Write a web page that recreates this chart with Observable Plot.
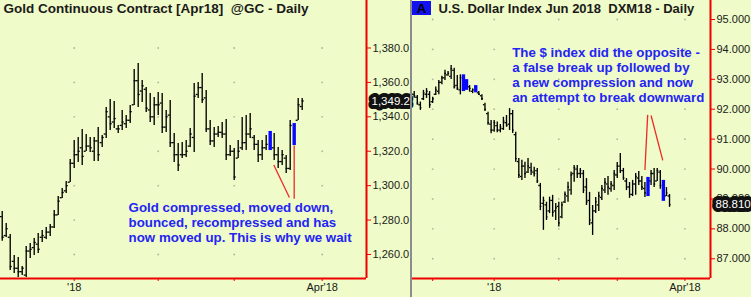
<!DOCTYPE html>
<html><head><meta charset="utf-8">
<script src="https://cdn.jsdelivr.net/npm/d3@7"></script>
<script src="https://cdn.jsdelivr.net/npm/@observablehq/plot@0.6"></script>
<style>
html,body{margin:0;padding:0;background:#effbc8;}
#wrap{position:relative;width:751px;height:297px;overflow:hidden;background:#effbc8;font-family:"Liberation Sans",Arial,sans-serif;}
#left{position:absolute;left:0;top:0;}
#right{position:absolute;left:410px;top:0;border-left:2px solid #8c8c8c;height:297px;}
#tag{position:absolute;left:412px;top:1px;width:19px;height:14px;background:#1212ee;color:#000;font:bold 13px "Liberation Sans",Arial,sans-serif;text-align:center;line-height:15px;}
svg{display:block;}
</style></head><body>
<div id="wrap"><div id="left"></div><div id="right"></div><div id="tag">A</div></div>
<script>
// ---------- Gold Continuous Contract (daily OHLC) ----------
const goldFirstT = -18; // trading days relative to first bar of 2018
const goldHigh = [1285.0,1278.0,1271.6,1259.4,1258.3,1253.0,1264.7,1266.4,1269.3,1272.2,
 1274.0,1275.7,1277.4,1285.6,1293.7,1298.4,1302.4,1315.2,1326.2,1328.0,
 1332.6,1329.7,1328.0,1328.0,1333.8,1329.2,1345.4,1350.1,1348.9,1335.0,
 1343.7,1340.8,1346.6,1367.5,1371.0,1361.1,1357.0,1353.6,1351.2,1354.1,
 1353.6,1343.7,1349.5,1330.3,1324.5,1325.1,1326.2,1333.2,1359.4,1360.0,
 1365.2,1355.3,1337.9,1333.8,1334.4,1336.7,1338.5,1323.3,1321.6,1326.2,
 1339.6,1340.8,1341.9,1329.2,1326.2,1326.2,1329.2,1331.5,1330.3,1322.2,
 1320.4,1317.5,1337.9,1336.1,1350.7,1350.7];
const goldLow = [1267.7,1269.9,1250.7,1249.0,1246.6,1247.8,1246.6,1257.7,1259.4,1260.6,
 1267.0,1268.7,1270.5,1275.1,1282.7,1292.5,1295.5,1301.8,1310.0,1313.5,
 1311.7,1319.9,1319.3,1314.0,1314.0,1322.2,1327.4,1332.1,1333.2,1330.3,
 1332.1,1333.2,1336.1,1346.6,1345.4,1348.3,1342.5,1336.7,1335.0,1340.8,
 1330.3,1330.9,1322.2,1313.5,1308.2,1315.8,1316.4,1322.2,1319.3,1350.7,
 1347.7,1330.9,1323.3,1322.2,1328.0,1327.4,1314.6,1317.0,1303.0,1315.8,
 1320.4,1320.4,1327.4,1320.4,1313.5,1314.6,1320.4,1320.4,1314.6,1310.0,
 1311.7,1307.1,1308.8,1323.3,1337.9,1343.7];
const goldOpen = [1282,1271,1270,1256,1252,1250,1248,1262,1264,1266,
 1270,1270,1273,1276,1283,1293,1297,1302,1313,1318,
 1322,1320,1323,1320,1326,1325,1330,1340,1337,1333,
 1335,1336,1338,1347,1361,1355,1356,1344,1340,1347,
 1348,1334,1341,1325,1318,1318,1318,1323,1328,1353,
 1357,1351,1333,1326,1330,1331,1330,1318,1320,1316,
 1322,1325,1330,1328,1324,1318,1322,1330,1322,1318,
 1314,1316,1310,1335,1338,1346];
const goldClose = [1270,1275,1253,1252,1250,1252,1262,1263,1267,1263,
 1271,1273,1276,1283,1291,1296,1300,1313,1318,1320,
 1317,1323,1322,1326,1318,1328,1343,1336,1339,1333,
 1337,1338,1343,1361,1353,1358,1345,1340,1347,1347,
 1334,1340,1325,1318,1312,1318,1320,1330,1352,1357,
 1350,1333,1326,1330,1331,1330,1318,1320,1305,1320,
 1325,1330,1333,1324,1318,1322,1324,1322,1318,1314,
 1318,1310,1335,1325,1347,1349.2];
const goldPainted = [67, 73];
const goldYTicks = [1260, 1280, 1300, 1320, 1340, 1360, 1380];
const goldXTicks = [0, 21, 40, 62];
const goldXLabels = ["'18", "", "", "Apr'18"];
const goldTitle = "Gold Continuous Contract [Apr18] \u00a0@GC - Daily";
const goldNote = [{t: 13.6, v: 1278.9, text: "Gold compressed, moved down,\nbounced, recompressed and has\nnow moved up. This is why we wait"}];
const goldArrows = [{t1: 49.9, v1: 1312.0, t2: 53.8, v2: 1293.1}, {t1: 55, v1: 1323.3, t2: 55, v2: 1292.4}];

// ---------- U.S. Dollar Index Jun 2018 (daily OHLC) ----------
const dxFirstT = -26;
const dxHigh = [92.59,92.46,92.24,92.63,92.69,92.59,92.40,92.74,92.96,93.10,
 93.30,93.26,93.46,93.37,93.13,93.15,93.15,92.99,92.79,92.68,
 92.79,92.59,92.48,92.20,91.90,91.62,91.62,91.57,91.49,91.73,
 91.79,92.02,91.96,91.23,90.35,90.29,90.23,90.35,90.19,90.06,
 90.02,89.52,89.06,88.89,89.06,89.12,88.85,88.89,88.89,89.23,
 89.56,89.90,90.12,90.12,90.02,89.95,89.68,89.22,88.78,89.05,
 89.22,89.45,89.68,89.75,89.58,89.95,90.22,90.52,90.02,89.68,
 89.55,89.62,89.85,89.92,89.75,89.55,89.72,89.95,90.02,90.02,
 89.95,89.62,89.38,89.15];
const dxLow = [92.37,92.13,91.96,92.29,92.36,92.03,92.19,92.46,92.48,92.82,
 92.96,93.10,92.99,92.68,92.63,92.48,92.59,92.63,92.57,92.52,
 92.55,92.46,92.29,91.92,91.46,91.18,91.23,91.21,91.21,91.29,
 91.40,91.29,91.19,90.23,89.68,89.62,89.68,89.85,89.78,89.73,
 89.52,88.61,87.95,88.28,88.51,88.39,88.28,88.06,88.34,88.85,
 88.89,89.12,89.56,89.68,89.68,89.18,88.78,88.11,87.78,88.51,
 88.58,88.95,89.18,89.12,89.22,89.28,89.68,89.85,89.62,89.28,
 89.02,89.08,89.12,89.45,89.28,89.05,89.08,89.45,89.38,89.58,
 89.32,88.92,89.08,88.72];
const dxOpen = [92.50,92.40,92.15,92.35,92.50,92.50,92.25,92.50,92.60,92.90,
 93.05,93.15,93.10,93.30,92.80,92.65,93.05,92.70,92.75,92.60,
 92.70,92.55,92.45,92.15,91.85,91.50,91.30,91.45,91.30,91.35,
 91.55,91.50,91.85,91.15,90.25,89.75,90.10,89.90,90.05,89.90,
 89.95,89.45,88.85,88.80,88.60,88.95,88.60,88.75,88.40,88.90,
 89.10,89.30,89.85,90.00,89.85,89.85,89.40,88.95,88.20,88.60,
 88.80,89.05,89.30,89.50,89.35,89.45,89.80,90.10,89.95,89.60,
 89.40,89.15,89.50,89.70,89.60,89.35,89.20,89.60,89.85,89.60,
 89.90,89.45,89.10,89.10];
const dxClose = [92.45,92.20,92.05,92.55,92.60,92.15,92.35,92.65,92.90,93.05,
 93.20,93.20,93.35,92.75,92.70,93.05,92.65,92.90,92.70,92.65,
 92.60,92.50,92.35,92.00,91.55,91.30,91.55,91.30,91.40,91.60,
 91.45,91.85,91.30,90.35,89.80,90.10,89.85,90.10,89.95,89.85,
 89.60,88.75,88.95,88.40,88.95,88.55,88.70,88.20,88.80,89.15,
 89.40,89.80,90.05,89.85,89.95,89.30,88.90,88.30,88.60,88.90,
 89.10,89.35,89.55,89.40,89.50,89.85,90.10,89.95,89.70,89.40,
 89.15,89.50,89.75,89.60,89.40,89.20,89.65,89.85,89.50,89.95,
 89.45,89.00,89.20,88.81];
const dxPainted = [16, 17, 20, 76, 81];
const dxYTicks = [87, 88, 89, 90, 91, 92, 93, 94, 95];
const dxXTicks = [-20, 0, 21, 40, 62];
const dxXLabels = ["", "'18", "", "", "Apr'18"];
const dxTitle = "U.S. Dollar Index Jun 2018 \u00a0DXM18 - Daily";
const dxNote = [{t: 5.85, v: 93.155, text: "The $ index did the opposite -\na false break up followed by\na new compression and now\nan attempt to break downward"}];
const dxArrows = [{t1: 49.0, v1: 89.97, t2: 49.9, v2: 91.81}, {t1: 51.0, v1: 91.79, t2: 54.8, v2: 90.29}];

// ---------- helpers ----------
const FONT = "'Liberation Sans', Arial, sans-serif";
const RED = "#f00000";
const NOTE = "#2424f4";
const TXT = "#1a1a1a";

function makeRows(high, low, open, close, firstT, painted) {
  return high.map((h, i) => ({t: i + firstT, high: h, low: low[i], open: open[i], close: close[i], painted: painted.includes(i)}));
}

function panel({rows, width, marginRight, xDomain, yDomain, xTicks, xLabels, yTicks, yFormat, title, titleDx, titleSize, note, arrows, tickHalf, priceFormat}) {
  const plain = rows.filter(d => !d.painted);
  const painted = rows.filter(d => d.painted);
  const last = rows[rows.length - 1].close;
  return Plot.plot({
    width, height: 297,
    marginLeft: 0, marginRight, marginTop: 0, marginBottom: 19,
    x: {domain: xDomain},
    y: {domain: yDomain},
    style: {background: "transparent", fontFamily: FONT, overflow: "visible"},
    marks: [
      Plot.dot(d3.cross(xTicks, yTicks), {x: d => d[0], y: d => d[1], r: 0.9, fill: "#b2b4a2", stroke: null}),
      Plot.ruleX(plain, {x: "t", y1: "low", y2: "high", stroke: "#000", strokeWidth: 1.35}),
      Plot.ruleY(plain, {y: "open", x1: d => d.t - tickHalf, x2: "t", stroke: "#000", strokeWidth: 1.3}),
      Plot.ruleY(plain, {y: "close", x1: "t", x2: d => d.t + tickHalf, stroke: "#000", strokeWidth: 1.3}),
      Plot.ruleX(painted, {x: "t", y1: "low", y2: "high", stroke: "#0808ff", strokeWidth: 3.4}),
      Plot.link(arrows, {x1: "t1", y1: "v1", x2: "t2", y2: "v2", stroke: "#ee2a2a", strokeWidth: 1.3}),
      Plot.ruleX([xDomain[1]], {stroke: RED, strokeWidth: 2}),
      Plot.ruleY([yDomain[0]], {stroke: RED, strokeWidth: 2}),
      Plot.axisY({anchor: "right", ticks: yTicks, tickFormat: yFormat, tickSize: 4, tickPadding: 2, stroke: RED, fill: TXT, fontSize: 11, label: null}),
      Plot.axisX({anchor: "bottom", ticks: xTicks, tickFormat: d => xLabels[xTicks.indexOf(d)], tickSize: 3, tickPadding: 2, stroke: RED, fill: TXT, fontSize: 11, label: null}),
      Plot.text(note, {x: "t", y: "v", text: "text", textAnchor: "start", lineAnchor: "middle", lineHeight: 1.13, fontSize: 13.3, fontWeight: "bold", fill: NOTE}),
      Plot.text([title], {frameAnchor: "top-left", dx: titleDx, dy: 3, textAnchor: "start", lineAnchor: "top", fontSize: titleSize, fontWeight: "bold", fill: TXT}),
      Plot.text([last], {y: d => d, text: d => priceFormat(d), frameAnchor: "right", dx: 5, textAnchor: "start", fontSize: 11.5, fill: "#fff", stroke: "#111", strokeWidth: 8, strokeLinejoin: "round", paintOrder: "stroke"})
    ]
  });
}

const goldRows = makeRows(goldHigh, goldLow, goldOpen, goldClose, goldFirstT, goldPainted);
const dxRows = makeRows(dxHigh, dxLow, dxOpen, dxClose, dxFirstT, dxPainted);

document.getElementById("left").append(panel({
  rows: goldRows, width: 410, marginRight: 44,
  xDomain: [-18.43, 73.08], yDomain: [1246.05, 1407.6],
  xTicks: goldXTicks, xLabels: goldXLabels, yTicks: goldYTicks, yFormat: d3.format(",.1f"),
  title: goldTitle, titleDx: 3, titleSize: 13.5, note: goldNote, arrows: goldArrows, tickHalf: 0.5, priceFormat: d3.format(",.1f")
}));

document.getElementById("right").append(panel({
  rows: dxRows, width: 339, marginRight: 41,
  xDomain: [-26.56, 70.32], yDomain: [86.34, 95.635],
  xTicks: dxXTicks, xLabels: dxXLabels, yTicks: dxYTicks, yFormat: d3.format(".3f"),
  title: dxTitle, titleDx: 26, titleSize: 13, note: dxNote, arrows: dxArrows, tickHalf: 0.5, priceFormat: d3.format(".3f")
}));
</script></body></html>
